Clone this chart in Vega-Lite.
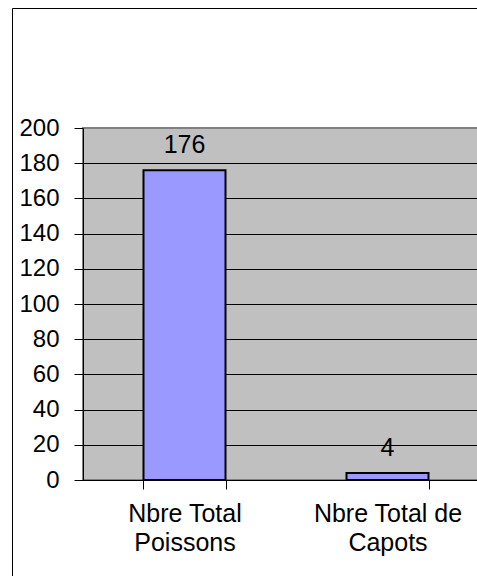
{
  "$schema": "https://vega.github.io/schema/vega-lite/v6.json",
  "width": 406,
  "height": 352,
  "autosize": "none",
  "padding": {"left": 83, "top": 128, "right": 0, "bottom": 96},
  "background": "white",
  "data": {"values": [
    {"categorie": "Nbre Total Poissons", "valeur": 176},
    {"categorie": "Nbre Total de Capots", "valeur": 4}
  ]},
  "config": {
    "font": "Liberation Sans",
    "view": {"fill": "#C0C0C0", "stroke": "#808080", "strokeWidth": 2}
  },
  "resolve": {"scale": {"x": "independent", "y": "independent"}, "axis": {"x": "independent", "y": "independent"}},
  "layer": [
    {
      "encoding": {
        "x": {
          "field": "categorie", "type": "nominal", "sort": null,
          "scale": {"paddingInner": 0.596, "paddingOuter": 0.298},
          "axis": {
            "title": null, "labelAngle": 0, "labelFontSize": 25, "labelColor": "black",
            "labelFont": "Liberation Sans",
            "labelExpr": "[slice(datum.label, 0, lastindexof(datum.label, ' ')), slice(datum.label, lastindexof(datum.label, ' ') + 1)]",
            "labelBaseline": "top", "labelPadding": 12, "labelLineHeight": 29, "labelLimit": 300,
            "labelOverlap": false, "labelBound": false, "labelFlush": false,
            "tickSize": 9, "tickBand": "extent", "tickColor": "black", "tickWidth": 1,
            "domainColor": "black", "domainWidth": 1, "grid": false
          }
        },
        "y": {
          "field": "valeur", "type": "quantitative",
          "scale": {"domain": [0, 200], "nice": false},
          "axis": {
            "title": null, "values": [0, 20, 40, 60, 80, 100, 120, 140, 160, 180, 200],
            "labelFontSize": 24, "labelColor": "black", "labelFont": "Liberation Sans",
            "labelPadding": 15, "tickSize": 9, "tickColor": "black", "tickWidth": 1,
            "domainColor": "black", "domainWidth": 1,
            "grid": true, "gridWidth": 1,
            "gridColor": {"condition": {"test": "datum.value === 200", "value": "#808080"}, "value": "black"},
            "labelOverlap": false
          }
        }
      },
      "layer": [
        {"mark": {"type": "bar", "fill": "#9999FF", "stroke": "black", "strokeWidth": 2}},
        {
          "mark": {"type": "text", "dy": -17, "baseline": "alphabetic", "fontSize": 25, "color": "black", "font": "Liberation Sans"},
          "encoding": {"text": {"field": "valeur", "type": "quantitative"}}
        }
      ]
    },
    {
      "mark": {"type": "point", "opacity": 0},
      "encoding": {
        "x": {
          "field": "categorie", "type": "nominal", "sort": null,
          "scale": {"range": [-71, 520]},
          "axis": {"orient": "top", "offset": 120, "title": null, "labels": false, "ticks": false, "grid": false, "domainColor": "black", "domainWidth": 1}
        },
        "y": {
          "field": "valeur", "type": "quantitative",
          "scale": {"range": [640, -120]},
          "axis": {"orient": "left", "offset": 71, "title": null, "labels": false, "ticks": false, "grid": false, "domainColor": "black", "domainWidth": 1}
        }
      }
    }
  ]
}
